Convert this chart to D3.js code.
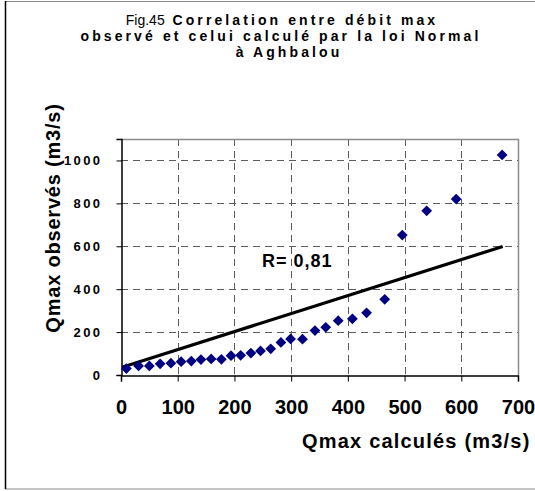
<!DOCTYPE html>
<html>
<head>
<meta charset="utf-8">
<script src="https://cdn.jsdelivr.net/npm/d3@7"></script>
<style>
  html, body { margin: 0; padding: 0; background: #fff; }
  svg { display: block; font-family: "Liberation Sans", Arial, sans-serif; }
</style>
</head>
<body>
<svg id="chart" width="535" height="491"></svg>
<script>
// Débits max calculés (loi Normale) et observés à Aghbalou, m3/s
const qCalcules = [9.5, 31, 50, 69, 88, 106, 124, 141, 159, 177, 194, 211, 229, 246,
                   264, 282, 299, 320, 342, 361, 383, 408, 433, 465, 496, 539, 591, 672];
const qObserves = [30, 42, 42, 52, 55, 62, 65, 72, 75, 73, 90, 92, 102, 112,
                   122, 152, 168, 167, 207, 222, 253, 262, 290, 353, 652, 765, 820, 1026];

// Droite d'ajustement (extrémités)
const droiteX = [2, 673];
const droiteY = [36, 599];

const xTicks = [0, 100, 200, 300, 400, 500, 600, 700];
const yTicks = [0, 200, 400, 600, 800, 1000];

const figNum = "Fig.45";
const titre = ["Correlation entre débit max", "observé et celui calculé par la loi Normal", "à Aghbalou"];
const coefR = "R= 0,81";

const svg = d3.select("#chart");

// cadre du graphique
svg.append("rect").attr("x", 5.5).attr("y", 1.5).attr("width", 545).attr("height", 487.5)
  .attr("fill", "#fff").attr("stroke", "#8a8a8a").attr("stroke-width", 1);
svg.append("line").attr("x1", 5.5).attr("x2", 5.5).attr("y1", 1).attr("y2", 489)
  .attr("stroke", "#000").attr("stroke-width", 1.5);

const plot = { left: 121, right: 518, top: 139, bottom: 375 };
const x = d3.scaleLinear().domain([0, 700]).range([plot.left, plot.right]);
const y = d3.scaleLinear().domain([0, 1100]).range([plot.bottom, plot.top]);

// grille en tirets
const grid = svg.append("g").attr("stroke", "#5a5a5a").attr("stroke-width", 1)
  .attr("stroke-dasharray", "7,5");
grid.selectAll("line.h").data(yTicks.filter(v => v > 0)).join("line")
  .attr("x1", plot.left).attr("x2", plot.right)
  .attr("y1", d => Math.round(y(d)) + 0.5).attr("y2", d => Math.round(y(d)) + 0.5);
grid.selectAll("line.v").data(xTicks.filter(v => v > 0 && v < 700)).join("line")
  .attr("y1", plot.top).attr("y2", plot.bottom)
  .attr("x1", d => Math.round(x(d)) + 0.5).attr("x2", d => Math.round(x(d)) + 0.5);

// bordure de la zone de traçage
svg.append("path")
  .attr("d", `M${plot.left},${plot.top + 0.5}H${plot.right + 0.5}V${plot.bottom}`)
  .attr("fill", "none").attr("stroke", "#8a8a8a").attr("stroke-width", 1.5);

// axes
const xAxis = svg.append("g").attr("transform", `translate(0,${plot.bottom + 0.5})`)
  .call(d3.axisBottom(x).tickValues(xTicks).tickSize(6).tickPadding(18).tickFormat(d3.format("d")));
const yAxis = svg.append("g").attr("transform", `translate(${plot.left + 0.5},0)`)
  .call(d3.axisLeft(y).tickValues(yTicks).tickSize(5).tickPadding(14).tickFormat(d3.format("d")));
[xAxis, yAxis].forEach(a => {
  a.select(".domain").attr("stroke", "#000").attr("stroke-width", 1.5);
  a.selectAll(".tick line").attr("stroke", "#000").attr("stroke-width", 1);
});
xAxis.selectAll(".tick text").attr("fill", "#000").attr("font-size", 20).attr("font-weight", "bold")
  .attr("font-family", "Liberation Sans, Arial, sans-serif").attr("dy", "0.71em");
yAxis.selectAll(".tick text").attr("fill", "#000").attr("font-size", 13).attr("font-weight", "bold")
  .attr("font-family", "Liberation Sans, Arial, sans-serif").style("letter-spacing", "2.4px");

// droite d'ajustement
svg.append("line")
  .attr("x1", x(droiteX[0])).attr("y1", y(droiteY[0]))
  .attr("x2", x(droiteX[1])).attr("y2", y(droiteY[1]))
  .attr("stroke", "#000").attr("stroke-width", 3.2);

// points observés
const pts = qCalcules.map((c, i) => [c, qObserves[i]]);
svg.append("g").selectAll("path").data(pts).join("path")
  .attr("d", d3.symbol(d3.symbolSquare, 58)())
  .attr("transform", d => `translate(${x(d[0])},${y(d[1])}) rotate(45)`)
  .attr("fill", "#000080");

// coefficient de corrélation
svg.append("text").attr("x", 262).attr("y", 267)
  .attr("font-size", 18).attr("font-weight", "bold").style("letter-spacing", "1px")
  .text(coefR);

// titre sur trois lignes
const l1 = svg.append("text").attr("text-anchor", "middle").attr("x", 282).attr("y", 24.5)
  .attr("font-size", 14);
l1.append("tspan").attr("font-weight", "normal").text(figNum + "\u00a0\u00a0");
l1.append("tspan").attr("font-weight", "bold").style("letter-spacing", "3.1px").text(titre[0]);
svg.append("text").attr("text-anchor", "middle").attr("x", 281).attr("y", 40.5)
  .attr("font-size", 14).attr("font-weight", "bold").style("letter-spacing", "3.1px").text(titre[1]);
svg.append("text").attr("text-anchor", "middle").attr("x", 289).attr("y", 56.5)
  .attr("font-size", 14).attr("font-weight", "bold").style("letter-spacing", "3.1px").text(titre[2]);

// titres des axes
svg.append("text").attr("x", 302).attr("y", 448).attr("font-size", 20).attr("font-weight", "bold")
  .style("letter-spacing", "1.2px").text("Qmax calculés (m3/s)");
svg.append("text").attr("transform", "translate(60,218) rotate(-90)").attr("text-anchor", "middle")
  .attr("font-size", 20).attr("font-weight", "bold").style("letter-spacing", "0.8px")
  .text("Qmax observés (m3/s)");
</script>
</body>
</html>
